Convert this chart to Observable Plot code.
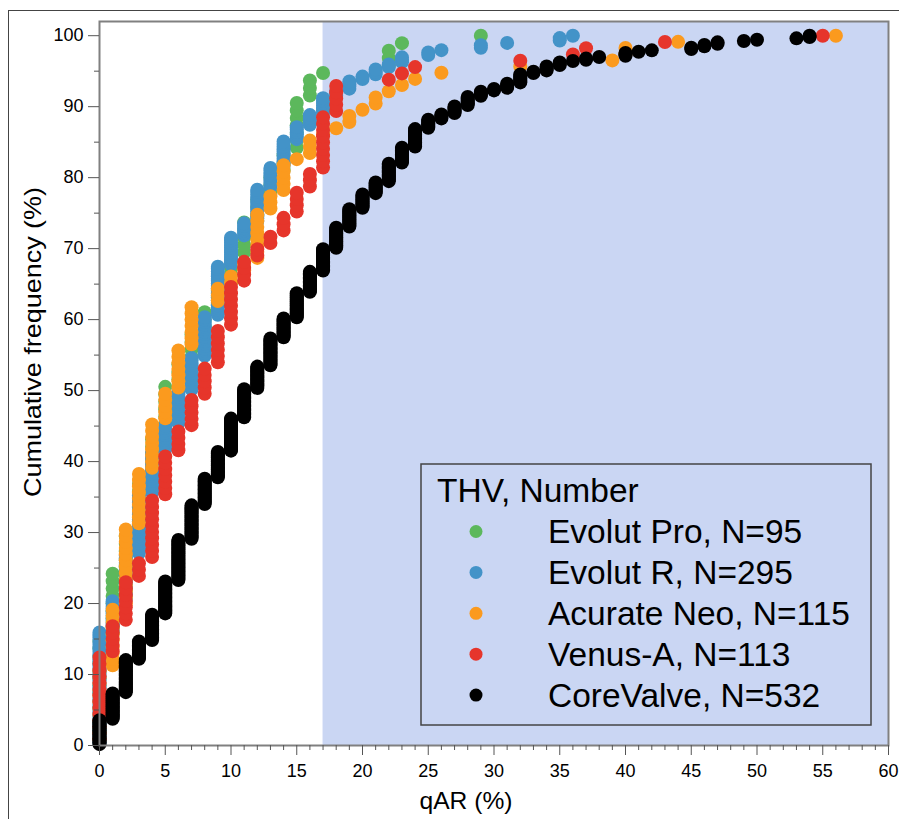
<!DOCTYPE html>
<html>
<head>
<meta charset="utf-8">
<script src="https://cdn.jsdelivr.net/npm/d3@7"></script>
<script src="https://cdn.jsdelivr.net/npm/@observablehq/plot@0.6"></script>
<style>
  html, body { margin: 0; padding: 0; background: #fff; overflow: hidden; }
  #wrap { position: relative; width: 899px; height: 819px; }
  #border { position: absolute; left: 8px; top: 10px; width: 1000px; height: 1000px;
            border-left: 1.5px solid #444; border-top: 1.5px solid #444; pointer-events: none; }
  #wrap svg { position: absolute; left: 0; top: 0; }
</style>
</head>
<body>
<div id="wrap"><div id="border"></div></div>
<script>
// ---- Data ----
const groupNames = ["Evolut Pro, N=95", "Evolut R, N=295", "Acurate Neo, N=115", "Venus-A, N=113", "CoreValve, N=532"];
const groupN = [95, 295, 115, 113, 532];
const groupColors = ["#5cb85c", "#4393c8", "#fb9a1e", "#e6352b", "#000000"];

// qAR values (%) and the cumulative frequency (%) reached at each qAR value
const evolutProQAR = [0, 1, 2, 3, 4, 5, 6, 7, 8, 9, 10, 11, 12, 13, 14, 15, 16, 17, 22, 23, 29];
const evolutProCum = [14.7, 24.2, 29.5, 36.8, 43.2, 50.5, 53.7, 57.9, 61.1, 64.2, 68.4, 73.7, 76.8, 80.0, 83.2, 90.5, 93.7, 94.7, 97.9, 98.9, 100];

const evolutRQAR = [0, 1, 2, 3, 4, 5, 6, 7, 8, 9, 10, 11, 12, 13, 14, 15, 16, 17, 18, 19, 20, 21, 22, 23, 25, 26, 29, 31, 35, 36];
const evolutRCum = [15.9, 20.3, 26.7, 35.3, 41.2, 45.0, 49.7, 54.5, 60.3, 67.4, 71.6, 73.5, 78.2, 81.3, 85.2, 87.1, 88.7, 91.1, 92.2, 93.6, 94.4, 95.1, 96.0, 97.0, 97.7, 98.1, 98.6, 99.0, 99.66, 100];

const acurateQAR = [0, 1, 2, 3, 4, 5, 6, 7, 9, 10, 11, 12, 13, 14, 15, 16, 17, 18, 19, 20, 21, 22, 23, 24, 26, 32, 39, 40, 44, 56];
const acurateCum = [10.4, 19.5, 30.4, 38.3, 45.2, 49.6, 55.7, 61.7, 64.3, 66.1, 67.8, 74.8, 77.4, 81.7, 82.6, 85.2, 86.1, 87.0, 88.7, 89.6, 91.3, 92.2, 93.0, 93.9, 94.8, 95.7, 96.5, 98.3, 99.1, 100];

const venusQAR = [0, 1, 2, 3, 4, 5, 6, 7, 8, 9, 10, 11, 12, 13, 14, 15, 16, 17, 18, 22, 23, 24, 32, 36, 37, 43, 55];
const venusCum = [12.0, 16.8, 23.0, 26.1, 34.5, 40.7, 44.2, 48.7, 53.1, 58.0, 64.6, 68.1, 69.9, 72.1, 74.3, 77.9, 80.5, 88.5, 92.9, 93.8, 94.7, 95.6, 96.5, 97.3, 98.2, 99.1, 100];

const coreValveQAR = [0, 1, 2, 3, 4, 5, 6, 7, 8, 9, 10, 11, 12, 13, 14, 15, 16, 17, 18, 19, 20, 21, 22, 23, 24, 25, 26, 27, 28, 29, 30, 31, 32, 33, 34, 35, 36, 37, 38, 40, 41, 42, 45, 46, 47, 49, 50, 53, 54];
const coreValveCum = [3.6, 7.3, 12.1, 14.6, 18.4, 23.1, 29.0, 33.9, 37.5, 41.4, 46.1, 50.1, 53.4, 57.3, 60.1, 63.7, 66.8, 69.9, 73.0, 75.6, 77.6, 79.3, 82.0, 84.2, 86.9, 88.2, 89.0, 90.1, 91.3, 92.1, 92.5, 93.2, 94.6, 94.9, 95.6, 96.2, 96.5, 96.8, 97.0, 97.6, 97.8, 98.0, 98.3, 98.7, 99.0, 99.2, 99.4, 99.6, 100];

const shadedFrom = [17];      // qAR threshold of the shaded region
const xMajorTicks = [0, 5, 10, 15, 20, 25, 30, 35, 40, 45, 50, 55, 60];
const yMajorTicks = [0, 10, 20, 30, 40, 50, 60, 70, 80, 90, 100];

const xTitle = "qAR (%)";
const yTitle = "Cumulative frequency (%)";
const legendTitle = "THV, Number";

// ---- Build one row per patient (cumulative frequency plot) ----
const series = [
  [evolutProQAR, evolutProCum],
  [evolutRQAR, evolutRCum],
  [acurateQAR, acurateCum],
  [venusQAR, venusCum],
  [coreValveQAR, coreValveCum]
];
const rows = [];
series.forEach(([qar, cum], gi) => {
  const N = groupN[gi];
  let prev = 0;
  qar.forEach((q, i) => {
    const c = Math.round(cum[i] * N / 100);
    for (let k = prev + 1; k <= c; k++) rows.push({group: groupNames[gi], qar: q, freq: 100 * k / N});
    prev = Math.max(prev, c);
  });
});

const xMinorTicks = d3.range(0, 61, 1).filter(v => !xMajorTicks.includes(v));
const yMinorTicks = d3.range(5, 101, 10);
const FONT = "'Liberation Sans', Arial, Helvetica, sans-serif";

const chart = Plot.plot({
  width: 899,
  height: 819,
  marginLeft: 99,
  marginRight: 11,
  marginTop: 21,
  marginBottom: 74,
  style: {fontFamily: FONT, background: "transparent", color: "#000", overflow: "visible"},
  x: {domain: [0, 60]},
  y: {domain: [0, 102]},
  color: {domain: groupNames, range: groupColors},
  marks: [
    Plot.rect(shadedFrom, {x1: d => d, x2: 60, y1: 0, y2: 102, fill: "#cad6f3"}),
    Plot.dot(rows, {x: "qar", y: "freq", fill: "group", r: 7}),
    Plot.frame({stroke: "#808080", strokeWidth: 2}),
    Plot.axisX({ticks: xMinorTicks, tickSize: 5, text: null, label: null, stroke: "#555"}),
    Plot.axisX({ticks: xMajorTicks, tickSize: 10, tickPadding: 9, fontSize: 18, label: null, stroke: "#555"}),
    Plot.axisY({ticks: yMinorTicks, tickSize: 5, text: null, label: null, stroke: "#555"}),
    Plot.axisY({ticks: yMajorTicks, tickSize: 11, tickPadding: 5, fontSize: 18, label: null, stroke: "#555"})
  ]
});

document.getElementById("wrap").appendChild(chart);
const svg = d3.select(chart);

// Axis titles
svg.append("text")
  .attr("transform", "translate(41,342) rotate(-90)")
  .attr("text-anchor", "middle")
  .attr("font-family", FONT).attr("font-size", 24)
  .attr("textLength", 310).attr("lengthAdjust", "spacingAndGlyphs")
  .attr("fill", "#000")
  .text(yTitle);
svg.append("text")
  .attr("x", 466).attr("y", 809)
  .attr("text-anchor", "middle")
  .attr("font-family", FONT).attr("font-size", 24)
  .attr("textLength", 93).attr("lengthAdjust", "spacingAndGlyphs")
  .attr("fill", "#000")
  .text(xTitle);

// Legend (inside the plot, lower right)
const lg = svg.append("g").attr("text-anchor", "start");
lg.append("rect").attr("x", 421).attr("y", 464).attr("width", 450).attr("height", 261)
  .attr("fill", "#cad6f3").attr("stroke", "#444").attr("stroke-width", 1.5);
lg.append("text").attr("x", 437).attr("y", 502).attr("text-anchor", "start")
  .attr("font-family", FONT).attr("font-size", 33.5).attr("fill", "#000").text(legendTitle);
groupNames.forEach((name, i) => {
  const base = 543 + i * 40.9;
  lg.append("circle").attr("cx", 476).attr("cy", base - 11.5).attr("r", 6.5).attr("fill", groupColors[i]);
  lg.append("text").attr("x", 548).attr("y", base).attr("text-anchor", "start")
    .attr("font-family", FONT).attr("font-size", 33.5).attr("fill", "#000").text(name);
});
</script>
</body>
</html>
